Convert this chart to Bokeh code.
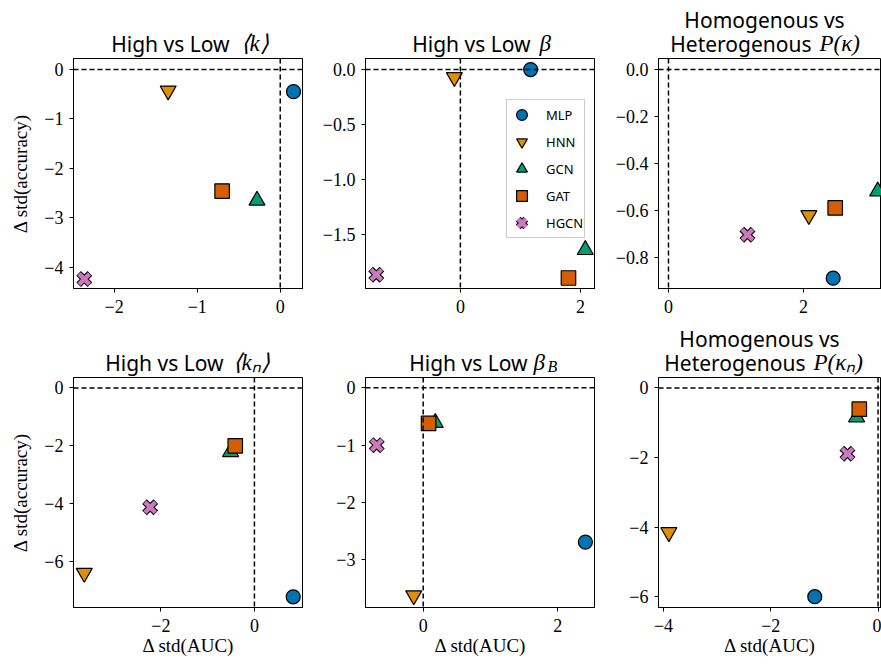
from bokeh.plotting import figure
from bokeh.models import Range1d, FixedTicker, Span, Legend, LegendItem
from bokeh.layouts import column, row
from bokeh.embed import file_html
from bokeh.resources import INLINE
from bokeh.core.properties import value

# ---------------- data ----------------
MODELS = ["MLP", "HNN", "GCN", "GAT", "HGCN"]
COLORS = ["#0173b2", "#de8f05", "#029e73", "#d55e00", "#cc78bc"]

# High vs Low <k>
k_x = [0.16, -1.35, -0.28, -0.70, -2.36]
k_y = [-0.45, -0.43, -2.65, -2.46, -4.24]
# High vs Low beta
beta_x = [1.17, -0.10, 2.08, 1.80, -1.40]
beta_y = [0.0, -0.07, -1.635, -1.89, -1.86]
# Homogenous vs Heterogenous P(kappa)
pk_x = [2.44, 2.08, 3.10, 2.47, 1.17]
pk_y = [-0.888, -0.62, -0.518, -0.589, -0.703]
# High vs Low <k_n>
kn_x = [0.83, -3.64, -0.51, -0.41, -2.23]
kn_y = [-7.21, -6.39, -2.21, -2.00, -4.12]
# High vs Low beta_B
betab_x = [2.41, -0.14, 0.18, 0.08, -0.69]
betab_y = [-2.69, -3.62, -0.61, -0.62, -1.00]
# Homogenous vs Heterogenous P(kappa_n)
pkn_x = [-1.18, -3.90, -0.40, -0.35, -0.57]
pkn_y = [-6.00, -4.15, -0.84, -0.61, -1.89]

# axis limits
k_xlim, k_ylim = (-2.49, 0.28), (-4.43, 0.22)
beta_xlim, beta_ylim = (-1.58, 2.25), (-1.985, 0.10)
pk_xlim, pk_ylim = (-0.148, 3.156), (-0.932, 0.047)
kn_xlim, kn_ylim = (-3.87, 1.05), (-7.58, 0.36)
betab_xlim, betab_ylim = (-0.857, 2.56), (-3.83, 0.18)
pkn_xlim, pkn_ylim = (-4.093, 0.064), (-6.31, 0.30)

# ticks and tick labels
k_xticks, k_xlabels = [-2.0, -1.0, 0.0], ["\u22122", "\u22121", "0"]
k_yticks, k_ylabels = [0.0, -1.0, -2.0, -3.0, -4.0], ["0", "\u22121", "\u22122", "\u22123", "\u22124"]
beta_xticks, beta_xlabels = [0.0, 2.0], ["0", "2"]
beta_yticks, beta_ylabels = [0.0, -0.5, -1.0, -1.5], ["0.0", "\u22120.5", "\u22121.0", "\u22121.5"]
pk_xticks, pk_xlabels = [0.0, 2.0], ["0", "2"]
pk_yticks, pk_ylabels = [0.0, -0.2, -0.4, -0.6, -0.8], ["0.0", "\u22120.2", "\u22120.4", "\u22120.6", "\u22120.8"]
kn_xticks, kn_xlabels = [-2.0, 0.0], ["\u22122", "0"]
kn_yticks, kn_ylabels = [0.0, -2.0, -4.0, -6.0], ["0", "\u22122", "\u22124", "\u22126"]
betab_xticks, betab_xlabels = [0.0, 2.0], ["0", "2"]
betab_yticks, betab_ylabels = [0.0, -1.0, -2.0, -3.0], ["0", "\u22121", "\u22122", "\u22123"]
pkn_xticks, pkn_xlabels = [-4.0, -2.0, 0.0], ["\u22124", "\u22122", "0"]
pkn_yticks, pkn_ylabels = [0.0, -2.0, -4.0, -6.0], ["0", "\u22122", "\u22124", "\u22126"]

Y_LABEL = "\u0394 std(accuracy)"
X_LABEL = "\u0394 std(AUC)"

SANS = "Noto Sans"
SERIF = "Liberation Serif"
FH = 230
W = 881


def style_axis(ax, ticks, labels):
    ax.ticker = FixedTicker(ticks=ticks)
    ax.major_label_overrides = {t: l for t, l in zip(ticks, labels)}
    ax.major_label_text_font = SERIF
    ax.major_label_text_font_size = "18px"
    ax.major_label_text_color = "black"
    ax.major_tick_in = 0
    ax.major_tick_out = 4
    ax.major_tick_line_color = "black"
    ax.major_tick_line_width = 1
    ax.minor_tick_line_color = None
    ax.axis_line_color = "black"
    ax.axis_line_width = 1
    ax.axis_label_text_font = SERIF
    ax.axis_label_text_font_size = "19px"
    ax.axis_label_text_font_style = "normal"
    ax.axis_label_text_color = "black"


def build(xs, ys, xlim, ylim, xt, xl, yt, yl, fw, borders, ylab=None, xlab=None):
    bl, br, bt, bb = borders
    p = figure(frame_width=fw, frame_height=FH,
               x_range=Range1d(*xlim), y_range=Range1d(*ylim),
               output_backend="svg", toolbar_location=None,
               min_border_left=bl, min_border_right=br,
               min_border_top=bt, min_border_bottom=bb,
               background_fill_color="white", border_fill_color="white")
    p.xgrid.visible = False
    p.ygrid.visible = False
    xa, ya = p.below[0], p.left[0]
    style_axis(xa, xt, xl)
    style_axis(ya, yt, yl)
    xa.major_label_standoff = 7
    ya.major_label_standoff = 6
    p.outline_line_color = "black"
    p.outline_line_width = 1
    p.outline_line_alpha = 1
    if ylab:
        ya.axis_label = ylab
        ya.axis_label_standoff = 10
    if xlab:
        xa.axis_label = xlab
        xa.axis_label_standoff = 0

    rends = []
    r = p.scatter([xs[0]], [ys[0]], marker="circle", size=14, fill_color=COLORS[0],
                  line_color="black", line_width=1.2)
    rends.append([r])
    r = p.scatter([xs[1]], [ys[1]], marker="inverted_triangle", size=16, fill_color=COLORS[1],
                  line_color="black", line_width=1.2)
    rends.append([r])
    r = p.scatter([xs[2]], [ys[2]], marker="triangle", size=16, fill_color=COLORS[2],
                  line_color="black", line_width=1.2)
    rends.append([r])
    r = p.scatter([xs[3]], [ys[3]], marker="square", size=14.5, fill_color=COLORS[3],
                  line_color="black", line_width=1.2)
    rends.append([r])
    # filled X: black outline stroke under a pink stroke
    r1 = p.scatter([xs[4]], [ys[4]], marker="x", size=16.0, line_color="black", line_width=6.6)
    r2 = p.scatter([xs[4]], [ys[4]], marker="x", size=14.8, line_color=COLORS[4], line_width=4.5)
    rends.append([r1, r2])

    for dim in ("width", "height"):
        p.add_layout(Span(location=0, dimension=dim, line_color="black",
                          line_width=1.5, line_dash="5 3"))
    return p, rends


def title_fig(height, items):
    t = figure(width=W, height=height, x_range=Range1d(0, W), y_range=Range1d(height, 0),
               output_backend="svg", toolbar_location=None,
               x_axis_location=None, y_axis_location=None,
               min_border=0, outline_line_color=None,
               background_fill_color="white", border_fill_color="white")
    t.xgrid.visible = False
    t.ygrid.visible = False
    for text, font, size, style, align, px, py in items:
        t.text(x=[px], y=[py], text=[text], text_font=value(font),
               text_font_size=value(f"{size}px"), text_font_style=value(style),
               text_align=value(align), text_baseline=value("alphabetic"),
               text_color="black")
    return t


TS = 21  # title sans size
MS = 23  # math size
SH = 8   # baseline correction for text glyphs
R1_TOP = 58
R1_BOTTOM = 38
R2_TITLE = 377 - (R1_TOP + FH + R1_BOTTOM)
R2_OFF = R1_TOP + FH + R1_BOTTOM + SH

p1, _ = build(k_x, k_y, k_xlim, k_ylim, k_xticks, k_xlabels, k_yticks, k_ylabels,
              230, (73, 0, 0, R1_BOTTOM), ylab=Y_LABEL)
p2, rends = build(beta_x, beta_y, beta_xlim, beta_ylim, beta_xticks, beta_xlabels,
                  beta_yticks, beta_ylabels, 230, (62, 0, 0, R1_BOTTOM))
p3, _ = build(pk_x, pk_y, pk_xlim, pk_ylim, pk_xticks, pk_xlabels, pk_yticks, pk_ylabels,
              223, (63, 0, 0, R1_BOTTOM))

legend = Legend(items=[LegendItem(label=m, renderers=rs) for m, rs in zip(MODELS, rends)],
                location=(141, 50), orientation="vertical",
                glyph_width=27, glyph_height=27, label_height=20, spacing=0,
                padding=1, margin=0, label_standoff=11,
                label_text_font=SANS, label_text_font_size="13px", label_text_color="black",
                border_line_color="#cccccc", border_line_width=1, border_line_alpha=1,
                background_fill_color="white", background_fill_alpha=0.9)
p2.add_layout(legend)

p4, _ = build(kn_x, kn_y, kn_xlim, kn_ylim, kn_xticks, kn_xlabels, kn_yticks, kn_ylabels,
              230, (73, 0, 0, 52), ylab=Y_LABEL, xlab=X_LABEL)
p5, _ = build(betab_x, betab_y, betab_xlim, betab_ylim, betab_xticks, betab_xlabels,
              betab_yticks, betab_ylabels, 230, (62, 0, 0, 52), xlab=X_LABEL)
p6, _ = build(pkn_x, pkn_y, pkn_xlim, pkn_ylim, pkn_xticks, pkn_xlabels, pkn_yticks, pkn_ylabels,
              223, (63, 0, 0, 52), xlab=X_LABEL)

t1 = title_fig(R1_TOP, [
    ("High vs Low", SANS, TS, "normal", "right", 229, 51 - SH),
    ("\u27e8k\u27e9", SERIF, MS, "italic", "left", 240, 51 - SH),
    ("High vs Low", SANS, TS, "normal", "right", 530, 51 - SH),
    ("\u03b2", SERIF, MS, "italic", "left", 539, 51 - SH),
    ("Homogenous vs", SANS, TS, "normal", "center", 764, 27 - SH),
    ("Heterogenous", SANS, TS, "normal", "right", 811, 51 - SH),
    ("P(\u03ba)", SERIF, MS, "italic", "left", 819, 51 - SH),
])
t2 = title_fig(R2_TITLE, [
    ("High vs Low", SANS, TS, "normal", "right", 223, 370 - R2_OFF),
    ("\u27e8k\u2099\u27e9", SERIF, MS, "italic", "left", 232, 370 - R2_OFF),
    ("High vs Low", SANS, TS, "normal", "right", 527, 370 - R2_OFF),
    ("\u03b2", SERIF, MS, "italic", "left", 533, 370 - R2_OFF),
    ("B", SERIF, 16, "italic", "left", 547, 374 - R2_OFF),
    ("Homogenous vs", SANS, TS, "normal", "center", 759, 346 - R2_OFF),
    ("Heterogenous", SANS, TS, "normal", "right", 805, 370 - R2_OFF),
    ("P(\u03ba\u2099)", SERIF, MS, "italic", "left", 813, 370 - R2_OFF),
])

layout = column(t1, row(p1, p2, p3, spacing=0), t2, row(p4, p5, p6, spacing=0), spacing=0)

open("out.html", "w").write(file_html(layout, INLINE))
